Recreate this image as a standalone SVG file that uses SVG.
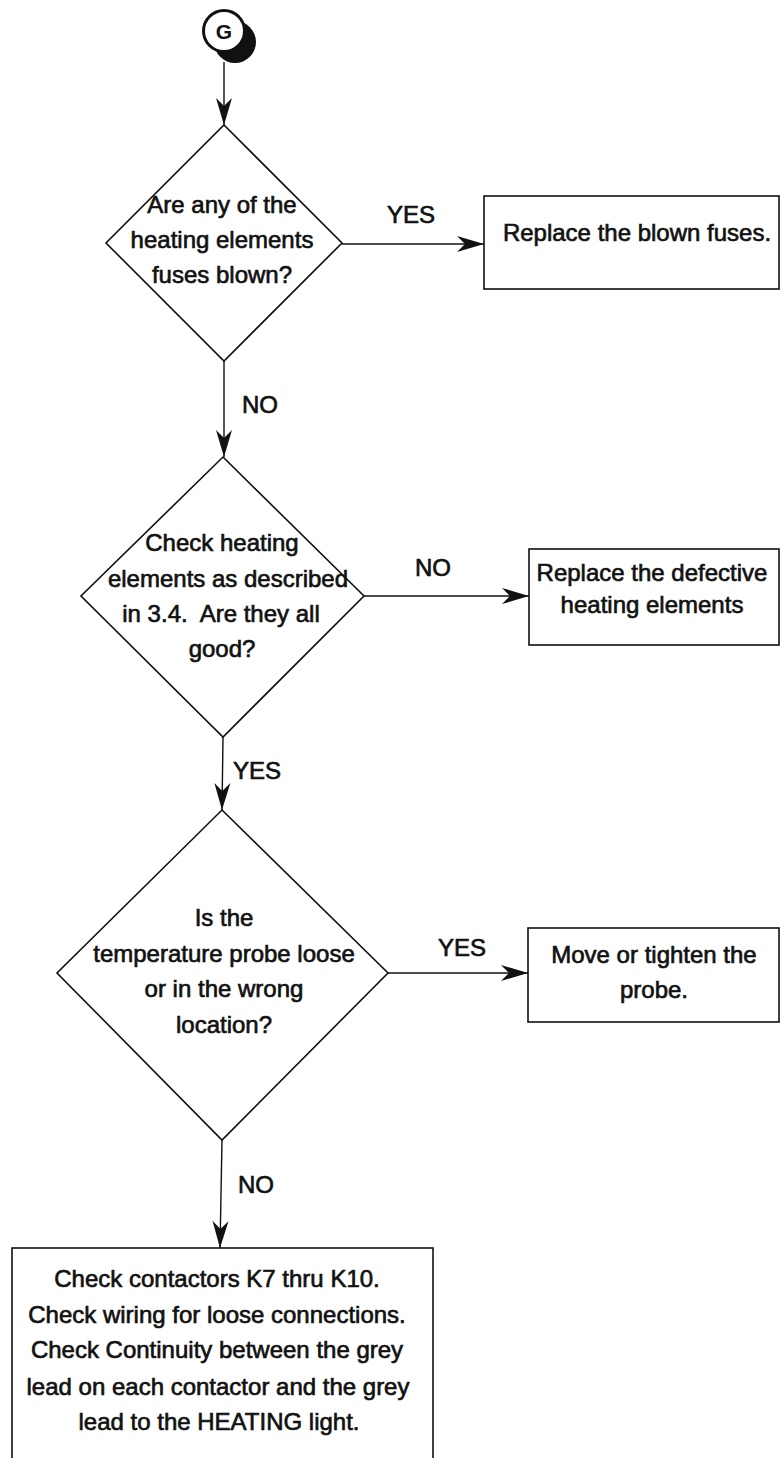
<svg xmlns="http://www.w3.org/2000/svg" width="780" height="1458" viewBox="0 0 780 1458">
<style>
  .shape { fill: #fff; stroke: #111; stroke-width: 1.6; }
  .conn { fill: none; stroke: #111; stroke-width: 1.4; }
  .t { font-family: "Liberation Sans", Arial, sans-serif; font-size: 24px; fill: #111; stroke: #111; stroke-width: 0.65; text-anchor: middle; }
  .lbl { font-family: "Liberation Sans", Arial, sans-serif; font-size: 24px; fill: #111; stroke: #111; stroke-width: 0.65; }
</style>
<defs>
  <marker id="arrow" markerUnits="userSpaceOnUse" viewBox="-28 -10 30 20" markerWidth="30" markerHeight="20" refX="0" refY="0" orient="auto">
    <path d="M0,0 L-27,-8 L-19,0 L-27,8 Z" fill="#111"/>
  </marker>
</defs>
<rect width="780" height="1458" fill="#fff"/>

<g id="connectors">
  <line class="conn" x1="224" y1="62" x2="224" y2="125" marker-end="url(#arrow)"/>
  <line class="conn" x1="342" y1="244" x2="484" y2="244" marker-end="url(#arrow)"/>
  <line class="conn" x1="224" y1="361" x2="224" y2="457" marker-end="url(#arrow)"/>
  <line class="conn" x1="364" y1="596" x2="529" y2="596" marker-end="url(#arrow)"/>
  <line class="conn" x1="223" y1="737" x2="222" y2="810" marker-end="url(#arrow)"/>
  <line class="conn" x1="388" y1="973" x2="528" y2="973" marker-end="url(#arrow)"/>
  <line class="conn" x1="222" y1="1140" x2="220" y2="1248" marker-end="url(#arrow)"/>
  <text class="lbl" x="387" y="223">YES</text>
  <text class="lbl" x="242" y="413">NO</text>
  <text class="lbl" x="415" y="576">NO</text>
  <text class="lbl" x="233" y="779">YES</text>
  <text class="lbl" x="438" y="956">YES</text>
  <text class="lbl" x="238" y="1193">NO</text>
</g>

<g id="start-G">
  <circle cx="235" cy="42" r="21" fill="#111"/>
  <circle cx="224" cy="31" r="20.5" fill="#fff" stroke="#111" stroke-width="3"/>
  <text x="224" y="39" font-family="Liberation Sans, Arial, sans-serif" font-size="21" font-weight="bold" fill="#111" text-anchor="middle">G</text>
</g>

<g id="decision-fuses">
  <polygon class="shape" points="224,125 342,243 224,361 106,243"/>
  <text class="t" x="222" y="213">Are any of the</text>
  <text class="t" x="222" y="248">heating elements</text>
  <text class="t" x="222" y="283">fuses blown?</text>
</g>

<g id="box-replace-fuses">
  <rect class="shape" x="484" y="196" width="295" height="93"/>
  <text class="t" x="637" y="241">Replace the blown fuses.</text>
</g>

<g id="decision-elements">
  <polygon class="shape" points="223,457 364,596 223,737 81,596"/>
  <text class="t" x="222" y="551">Check heating</text>
  <text class="t" x="228" y="587">elements as described</text>
  <text class="t" x="221" y="622">in 3.4.&#160; Are they all</text>
  <text class="t" x="222" y="657">good?</text>
</g>

<g id="box-replace-elements">
  <rect class="shape" x="529" y="549" width="250" height="96"/>
  <text class="t" x="652" y="581">Replace the defective</text>
  <text class="t" x="652" y="613">heating elements</text>
</g>

<g id="decision-probe">
  <polygon class="shape" points="222,810 388,973 222,1140 57,973"/>
  <text class="t" x="224" y="926">Is the</text>
  <text class="t" x="224" y="962">temperature probe loose</text>
  <text class="t" x="224" y="997">or in the wrong</text>
  <text class="t" x="224" y="1033">location?</text>
</g>

<g id="box-probe">
  <rect class="shape" x="528" y="928" width="251" height="94"/>
  <text class="t" x="654" y="963">Move or tighten the</text>
  <text class="t" x="654" y="998">probe.</text>
</g>

<g id="box-contactors">
  <rect class="shape" x="12" y="1248" width="421" height="230"/>
  <text class="t" x="217" y="1287">Check contactors K7 thru K10.</text>
  <text class="t" x="217" y="1323">Check wiring for loose connections.</text>
  <text class="t" x="217" y="1358">Check Continuity between the grey</text>
  <text class="t" x="218" y="1395">lead on each contactor and the grey</text>
  <text class="t" x="219" y="1430">lead to the HEATING light.</text>
</g>
</svg>
